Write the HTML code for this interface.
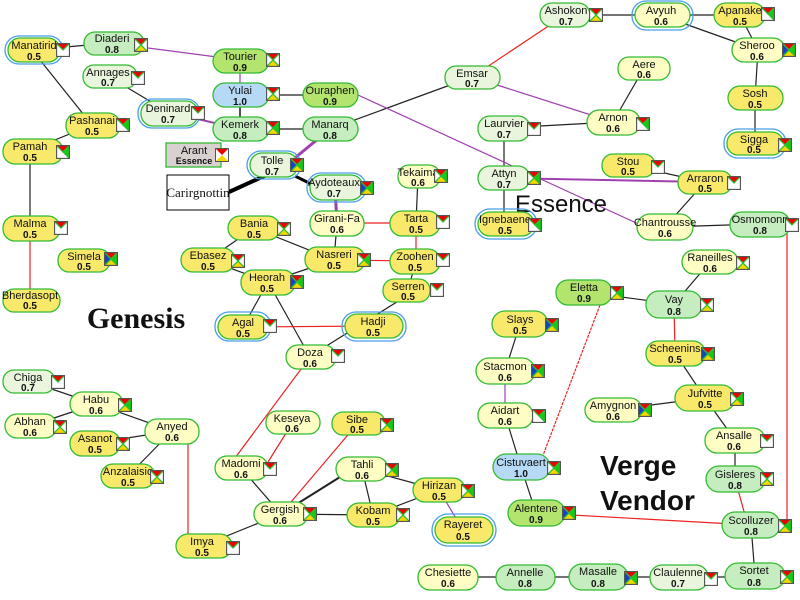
<!DOCTYPE html>
<html><head><meta charset="utf-8"><style>
html,body{margin:0;padding:0;background:#fff;width:800px;height:600px;overflow:hidden}
svg text{font-family:"Liberation Sans","DejaVu Sans",sans-serif;text-anchor:middle;fill:#111}
.n{font-size:11px}.v{font-size:10px;font-weight:bold}
</style></head><body>
<svg width="800" height="600" viewBox="0 0 800 600" xmlns="http://www.w3.org/2000/svg">
<defs>
<symbol id="iR" viewBox="0 0 14 14"><rect width="14" height="14" fill="#fff"/><path d="M0 0H14L7 7Z" fill="#e00"/><rect x=".5" y=".5" width="13" height="13" fill="none" stroke="#555"/></symbol>
<symbol id="iH" viewBox="0 0 14 14"><rect width="14" height="14" fill="#fff"/><path d="M0 0H14L7 7Z" fill="#e00"/><path d="M0 14H14L7 7Z" fill="#f5d800"/><rect x=".5" y=".5" width="13" height="13" fill="none" stroke="#555"/></symbol>
<symbol id="iRG" viewBox="0 0 14 14"><rect width="14" height="14" fill="#fff"/><path d="M0 0H14L7 7Z" fill="#e00"/><path d="M14 0V14L7 7Z" fill="#1c1"/><rect x=".5" y=".5" width="13" height="13" fill="none" stroke="#555"/></symbol>
<symbol id="iG" viewBox="0 0 14 14"><rect width="14" height="14" fill="#fff"/><path d="M0 0H14L7 7Z" fill="#e00"/><path d="M14 0V14L7 7Z" fill="#1c1"/><path d="M0 14H14L7 7Z" fill="#f5d800"/><rect x=".5" y=".5" width="13" height="13" fill="none" stroke="#555"/></symbol>
<symbol id="iF" viewBox="0 0 14 14"><path d="M0 0H14L7 7Z" fill="#e00"/><path d="M14 0V14L7 7Z" fill="#1c1"/><path d="M0 14H14L7 7Z" fill="#f5d800"/><path d="M0 0V14L7 7Z" fill="#14c"/><rect x=".5" y=".5" width="13" height="13" fill="none" stroke="#555"/></symbol>
</defs>
<g stroke-width="1.2" fill="none">
<g stroke="#222">
<line x1="33" y1="50" x2="110" y2="43"/><line x1="40" y1="60" x2="92" y2="125"/><line x1="108" y1="76" x2="168" y2="112"/>
<line x1="240" y1="95" x2="240" y2="129" stroke="#555" stroke-width="2"/><line x1="240" y1="95" x2="330" y2="95"/><line x1="240" y1="129" x2="330" y2="129"/>
<line x1="92" y1="125" x2="30" y2="150"/><line x1="30" y1="150" x2="30" y2="228"/>
<line x1="330" y1="129" x2="472" y2="77"/><line x1="565" y1="15" x2="660" y2="15"/><line x1="660" y1="15" x2="740" y2="15"/>
<line x1="660" y1="15" x2="758" y2="50"/><line x1="740" y1="15" x2="758" y2="50"/><line x1="758" y1="50" x2="755" y2="98"/><line x1="755" y1="98" x2="755" y2="143"/>
<line x1="644" y1="68" x2="613" y2="122"/><line x1="613" y1="122" x2="504" y2="128"/><line x1="504" y1="128" x2="504" y2="224"/>
<line x1="628" y1="165" x2="705" y2="182"/><line x1="705" y1="182" x2="665" y2="227"/><line x1="665" y1="227" x2="760" y2="224"/>
<line x1="418" y1="176" x2="416" y2="223"/><line x1="337" y1="223" x2="334" y2="260"/><line x1="254" y1="228" x2="334" y2="260"/>
<line x1="334" y1="260" x2="268" y2="282"/><line x1="254" y1="228" x2="208" y2="260"/><line x1="208" y1="260" x2="268" y2="282"/>
<line x1="416" y1="261" x2="408" y2="290"/><line x1="268" y1="282" x2="243" y2="327"/><line x1="268" y1="282" x2="310" y2="357"/>
<line x1="400" y1="300" x2="320" y2="350"/>
<line x1="28" y1="381" x2="96" y2="404"/><line x1="96" y1="404" x2="30" y2="426"/><line x1="96" y1="404" x2="172" y2="431"/>
<line x1="95" y1="443" x2="172" y2="431"/><line x1="128" y1="476" x2="172" y2="431"/>
<line x1="202" y1="546" x2="281" y2="514"/><line x1="241" y1="468" x2="281" y2="514"/><line x1="281" y1="514" x2="373" y2="515"/>
<line x1="281" y1="514" x2="340" y2="477" stroke-width="2"/><line x1="362" y1="469" x2="373" y2="515"/><line x1="362" y1="469" x2="439" y2="490"/><line x1="373" y1="515" x2="439" y2="490"/>
<line x1="584" y1="292" x2="674" y2="304"/><line x1="710" y1="262" x2="674" y2="304"/><line x1="675" y1="353" x2="705" y2="398"/>
<line x1="613" y1="410" x2="705" y2="398"/><line x1="705" y1="398" x2="735" y2="440"/><line x1="735" y1="440" x2="735" y2="479"/>
<line x1="751" y1="525" x2="755" y2="576"/><line x1="520" y1="324" x2="505" y2="371"/><line x1="505" y1="415" x2="521" y2="467"/><line x1="521" y1="467" x2="536" y2="513"/>
<line x1="448" y1="577" x2="755" y2="577"/>
</g>
<g stroke="#a040b0">
<line x1="110" y1="43" x2="240" y2="60"/><line x1="168" y1="112" x2="240" y2="129" stroke-width="2"/><line x1="240" y1="60" x2="240" y2="95"/>
<line x1="330" y1="129" x2="290" y2="162" stroke-width="3"/><line x1="335" y1="188" x2="337" y2="223" stroke-width="3"/>
<line x1="358" y1="95" x2="645" y2="227"/><line x1="472" y1="77" x2="613" y2="122"/><line x1="504" y1="178" x2="705" y2="182" stroke-width="2"/>
<line x1="439" y1="490" x2="463" y2="530"/><line x1="505" y1="371" x2="505" y2="415"/>
</g>
<g stroke="#e22">
<line x1="30" y1="228" x2="30" y2="300"/><line x1="472" y1="77" x2="565" y2="15"/><line x1="337" y1="223" x2="416" y2="223"/>
<line x1="416" y1="223" x2="416" y2="261"/><line x1="334" y1="260" x2="416" y2="261"/><line x1="243" y1="327" x2="373" y2="326"/>
<line x1="310" y1="357" x2="235" y2="458"/><line x1="188" y1="441" x2="188" y2="537"/><line x1="293" y1="422" x2="268" y2="462"/>
<line x1="358" y1="423" x2="291" y2="502"/><line x1="600" y1="305" x2="542" y2="458" stroke-dasharray="3,1"/><line x1="674" y1="304" x2="675" y2="353"/>
<line x1="735" y1="479" x2="745" y2="515"/><line x1="536" y1="513" x2="751" y2="525"/><line x1="787" y1="230" x2="787" y2="520"/>
</g>
<line x1="273" y1="172" x2="229" y2="192" stroke="#000" stroke-width="4"/><line x1="295" y1="176" x2="315" y2="186" stroke="#000" stroke-width="3"/>
</g>
<rect x="167" y="175" width="62" height="35" fill="#fff" stroke="#000"/>
<text x="198" y="197" style="font-family:'Liberation Serif',serif;font-size:13px">Carirgnottin</text>
<rect x="166" y="143" width="55" height="24" fill="#d9d0d0" stroke="#3b3" stroke-width="1.3"/>
<text class="n" x="194" y="154">Arant</text><text x="194" y="164" style="font-size:9px;font-weight:bold">Essence</text><use href="#iH" x="215" y="148" width="14" height="14"/>
<text x="136" y="328" style="font-family:'Liberation Serif',serif;font-size:30px;font-weight:bold">Genesis</text>
<text x="561" y="212" style="font-size:24px">Essence</text>
<text x="600" y="475" style="font-size:28px;font-weight:bold;text-anchor:start">Verge</text>
<text x="600" y="510" style="font-size:28px;font-weight:bold;text-anchor:start">Vendor</text>
<g stroke="#33bb33" stroke-width="1.3">
<rect x="5" y="36" width="58" height="28" rx="14" fill="none" stroke="#4a9de8"/>
<rect x="138" y="99" width="62" height="29" rx="14" fill="none" stroke="#4a9de8"/>
<rect x="247" y="151" width="54" height="28" rx="14" fill="none" stroke="#4a9de8"/>
<rect x="307" y="173" width="59" height="29" rx="14" fill="none" stroke="#4a9de8"/>
<rect x="215" y="312" width="56" height="29" rx="14" fill="none" stroke="#4a9de8"/>
<rect x="342" y="312" width="64" height="29" rx="14" fill="none" stroke="#4a9de8"/>
<rect x="432" y="514" width="64" height="32" rx="16" fill="none" stroke="#4a9de8"/>
<rect x="632" y="1" width="61" height="29" rx="14" fill="none" stroke="#4a9de8"/>
<rect x="724" y="129" width="62" height="29" rx="14" fill="none" stroke="#4a9de8"/>
<rect x="475" y="209" width="62" height="30" rx="15" fill="none" stroke="#4a9de8"/>
</g>
<g stroke="#33bb33" stroke-width="1.3">
<rect x="8" y="38" width="52" height="24" rx="12" fill="#f9e96b"/><text class="n" x="34" y="49" stroke="none">Manatirid</text><text class="v" x="34" y="60" stroke="none">0.5</text><use href="#iR" x="56" y="43" width="14" height="14"/>
<rect x="84" y="32" width="60" height="23" rx="11" fill="#c6edbf"/><text class="n" x="112" y="42" stroke="none">Diaderi</text><text class="v" x="112" y="53" stroke="none">0.8</text><use href="#iH" x="134" y="38" width="14" height="14"/>
<rect x="213" y="49" width="56" height="24" rx="12" fill="#b3e56e"/><text class="n" x="240" y="60" stroke="none">Tourier</text><text class="v" x="240" y="71" stroke="none">0.9</text><use href="#iH" x="266" y="53" width="14" height="14"/>
<rect x="213" y="83" width="56" height="24" rx="12" fill="#b6d9f5"/><text class="n" x="240" y="94" stroke="none">Yulai</text><text class="v" x="240" y="105" stroke="none">1.0</text><use href="#iH" x="266" y="87" width="14" height="14"/>
<rect x="213" y="117" width="56" height="24" rx="12" fill="#c6edbf"/><text class="n" x="240" y="128" stroke="none">Kemerk</text><text class="v" x="240" y="139" stroke="none">0.8</text><use href="#iG" x="266" y="121" width="14" height="14"/>
<rect x="83" y="65" width="54" height="23" rx="11" fill="#e9f5dc"/><text class="n" x="108" y="76" stroke="none">Annages</text><text class="v" x="108" y="86" stroke="none">0.7</text><use href="#iR" x="131" y="71" width="14" height="14"/>
<rect x="141" y="101" width="57" height="25" rx="12" fill="#e9f5dc"/><text class="n" x="168" y="112" stroke="none">Deninard</text><text class="v" x="168" y="123" stroke="none">0.7</text><use href="#iR" x="191" y="106" width="14" height="14"/>
<rect x="66" y="113" width="54" height="25" rx="12" fill="#f9e96b"/><text class="n" x="92" y="124" stroke="none">Pashanai</text><text class="v" x="92" y="135" stroke="none">0.5</text><use href="#iRG" x="116" y="118" width="14" height="14"/>
<rect x="3" y="139" width="60" height="25" rx="12" fill="#f9e96b"/><text class="n" x="30" y="150" stroke="none">Pamah</text><text class="v" x="30" y="161" stroke="none">0.5</text><use href="#iRG" x="56" y="145" width="14" height="14"/>
<rect x="250" y="153" width="48" height="24" rx="12" fill="#e9f5dc"/><text class="n" x="272" y="164" stroke="none">Tolle</text><text class="v" x="272" y="175" stroke="none">0.7</text><use href="#iF" x="290" y="158" width="14" height="14"/>
<rect x="303" y="83" width="55" height="24" rx="12" fill="#b3e56e"/><text class="n" x="330" y="94" stroke="none">Ouraphen</text><text class="v" x="330" y="105" stroke="none">0.9</text>
<rect x="303" y="117" width="55" height="24" rx="12" fill="#c6edbf"/><text class="n" x="330" y="128" stroke="none">Manarq</text><text class="v" x="330" y="139" stroke="none">0.8</text>
<rect x="310" y="175" width="53" height="25" rx="12" fill="#e9f5dc"/><text class="n" x="334" y="186" stroke="none">Aydoteaux</text><text class="v" x="334" y="197" stroke="none">0.7</text><use href="#iF" x="360" y="181" width="14" height="14"/>
<rect x="310" y="211" width="54" height="25" rx="12" fill="#fdfdc4"/><text class="n" x="337" y="222" stroke="none">Girani-Fa</text><text class="v" x="337" y="233" stroke="none">0.6</text>
<rect x="398" y="165" width="42" height="23" rx="11" fill="#fdfdc4"/><text class="n" x="418" y="176" stroke="none">Tekaima</text><text class="v" x="418" y="186" stroke="none">0.6</text><use href="#iG" x="434" y="169" width="14" height="14"/>
<rect x="390" y="211" width="50" height="25" rx="12" fill="#f9e96b"/><text class="n" x="416" y="222" stroke="none">Tarta</text><text class="v" x="416" y="233" stroke="none">0.5</text><use href="#iR" x="436" y="215" width="14" height="14"/>
<rect x="305" y="247" width="60" height="25" rx="12" fill="#f9e96b"/><text class="n" x="334" y="258" stroke="none">Nasreri</text><text class="v" x="334" y="269" stroke="none">0.5</text><use href="#iG" x="357" y="253" width="14" height="14"/>
<rect x="390" y="249" width="50" height="25" rx="12" fill="#f9e96b"/><text class="n" x="415" y="260" stroke="none">Zoohen</text><text class="v" x="415" y="271" stroke="none">0.5</text><use href="#iR" x="436" y="253" width="14" height="14"/>
<rect x="383" y="279" width="47" height="23" rx="11" fill="#f9e96b"/><text class="n" x="408" y="290" stroke="none">Serren</text><text class="v" x="408" y="300" stroke="none">0.5</text><use href="#iR" x="430" y="283" width="14" height="14"/>
<rect x="228" y="216" width="52" height="24" rx="12" fill="#f9e96b"/><text class="n" x="254" y="227" stroke="none">Bania</text><text class="v" x="254" y="238" stroke="none">0.5</text><use href="#iH" x="277" y="222" width="14" height="14"/>
<rect x="181" y="248" width="54" height="24" rx="12" fill="#f9e96b"/><text class="n" x="208" y="259" stroke="none">Ebasez</text><text class="v" x="208" y="270" stroke="none">0.5</text><use href="#iH" x="231" y="254" width="14" height="14"/>
<rect x="241" y="270" width="54" height="25" rx="12" fill="#f9e96b"/><text class="n" x="267" y="281" stroke="none">Heorah</text><text class="v" x="267" y="292" stroke="none">0.5</text><use href="#iF" x="290" y="275" width="14" height="14"/>
<rect x="218" y="315" width="50" height="24" rx="12" fill="#f9e96b"/><text class="n" x="243" y="326" stroke="none">Agal</text><text class="v" x="243" y="337" stroke="none">0.5</text><use href="#iR" x="263" y="319" width="14" height="14"/>
<rect x="345" y="314" width="58" height="24" rx="12" fill="#f9e96b"/><text class="n" x="373" y="325" stroke="none">Hadji</text><text class="v" x="373" y="336" stroke="none">0.5</text>
<rect x="286" y="345" width="50" height="24" rx="12" fill="#fdfdc4"/><text class="n" x="310" y="356" stroke="none">Doza</text><text class="v" x="310" y="367" stroke="none">0.6</text><use href="#iR" x="331" y="349" width="14" height="14"/>
<rect x="3" y="216" width="57" height="25" rx="12" fill="#f9e96b"/><text class="n" x="30" y="227" stroke="none">Malma</text><text class="v" x="30" y="238" stroke="none">0.5</text><use href="#iR" x="54" y="221" width="14" height="14"/>
<rect x="58" y="249" width="52" height="23" rx="11" fill="#f9e96b"/><text class="n" x="84" y="260" stroke="none">Simela</text><text class="v" x="84" y="270" stroke="none">0.5</text><use href="#iF" x="104" y="252" width="14" height="14"/>
<rect x="3" y="289" width="57" height="23" rx="11" fill="#f9e96b"/><text class="n" x="30" y="299" stroke="none">Bherdasopt</text><text class="v" x="30" y="309" stroke="none">0.5</text>
<rect x="3" y="370" width="52" height="23" rx="11" fill="#e9f5dc"/><text class="n" x="28" y="381" stroke="none">Chiga</text><text class="v" x="28" y="391" stroke="none">0.7</text><use href="#iR" x="51" y="375" width="14" height="14"/>
<rect x="70" y="392" width="53" height="24" rx="12" fill="#fdfdc4"/><text class="n" x="96" y="403" stroke="none">Habu</text><text class="v" x="96" y="414" stroke="none">0.6</text><use href="#iG" x="118" y="398" width="14" height="14"/>
<rect x="5" y="414" width="52" height="24" rx="12" fill="#fdfdc4"/><text class="n" x="30" y="425" stroke="none">Abhan</text><text class="v" x="30" y="436" stroke="none">0.6</text><use href="#iH" x="53" y="420" width="14" height="14"/>
<rect x="70" y="431" width="50" height="25" rx="12" fill="#f9e96b"/><text class="n" x="95" y="442" stroke="none">Asanot</text><text class="v" x="95" y="453" stroke="none">0.5</text><use href="#iH" x="116" y="437" width="14" height="14"/>
<rect x="145" y="419" width="54" height="25" rx="12" fill="#fdfdc4"/><text class="n" x="172" y="430" stroke="none">Anyed</text><text class="v" x="172" y="441" stroke="none">0.6</text>
<rect x="101" y="464" width="54" height="24" rx="12" fill="#f9e96b"/><text class="n" x="128" y="475" stroke="none">Anzalaisio</text><text class="v" x="128" y="486" stroke="none">0.5</text><use href="#iH" x="150" y="470" width="14" height="14"/>
<rect x="176" y="534" width="56" height="24" rx="12" fill="#f9e96b"/><text class="n" x="202" y="545" stroke="none">Imya</text><text class="v" x="202" y="556" stroke="none">0.5</text><use href="#iR" x="226" y="541" width="14" height="14"/>
<rect x="266" y="411" width="54" height="23" rx="11" fill="#fdfdc4"/><text class="n" x="292" y="422" stroke="none">Keseya</text><text class="v" x="292" y="432" stroke="none">0.6</text>
<rect x="332" y="412" width="53" height="23" rx="11" fill="#f9e96b"/><text class="n" x="357" y="423" stroke="none">Sibe</text><text class="v" x="357" y="433" stroke="none">0.5</text><use href="#iG" x="380" y="418" width="14" height="14"/>
<rect x="215" y="456" width="53" height="24" rx="12" fill="#fdfdc4"/><text class="n" x="241" y="467" stroke="none">Madomi</text><text class="v" x="241" y="478" stroke="none">0.6</text><use href="#iR" x="263" y="462" width="14" height="14"/>
<rect x="336" y="457" width="52" height="24" rx="12" fill="#fdfdc4"/><text class="n" x="362" y="468" stroke="none">Tahli</text><text class="v" x="362" y="479" stroke="none">0.6</text><use href="#iG" x="385" y="463" width="14" height="14"/>
<rect x="254" y="502" width="54" height="24" rx="12" fill="#fdfdc4"/><text class="n" x="280" y="513" stroke="none">Gergish</text><text class="v" x="280" y="524" stroke="none">0.6</text><use href="#iG" x="303" y="507" width="14" height="14"/>
<rect x="347" y="503" width="53" height="24" rx="12" fill="#f9e96b"/><text class="n" x="373" y="514" stroke="none">Kobam</text><text class="v" x="373" y="525" stroke="none">0.5</text><use href="#iH" x="396" y="508" width="14" height="14"/>
<rect x="413" y="478" width="52" height="24" rx="12" fill="#f9e96b"/><text class="n" x="439" y="489" stroke="none">Hirizan</text><text class="v" x="439" y="500" stroke="none">0.5</text><use href="#iG" x="461" y="484" width="14" height="14"/>
<rect x="435" y="517" width="58" height="26" rx="13" fill="#f9e96b"/><text class="n" x="463" y="528" stroke="none">Rayeret</text><text class="v" x="463" y="540" stroke="none">0.5</text>
<rect x="540" y="3" width="50" height="24" rx="12" fill="#e9f5dc"/><text class="n" x="566" y="14" stroke="none">Ashokon</text><text class="v" x="566" y="25" stroke="none">0.7</text><use href="#iH" x="589" y="8" width="14" height="14"/>
<rect x="635" y="3" width="55" height="24" rx="12" fill="#fdfdc4"/><text class="n" x="661" y="14" stroke="none">Avyuh</text><text class="v" x="661" y="25" stroke="none">0.6</text>
<rect x="714" y="3" width="51" height="24" rx="12" fill="#f9e96b"/><text class="n" x="740" y="14" stroke="none">Apanake</text><text class="v" x="740" y="25" stroke="none">0.5</text><use href="#iRG" x="761" y="7" width="14" height="14"/>
<rect x="445" y="66" width="55" height="23" rx="11" fill="#e9f5dc"/><text class="n" x="472" y="77" stroke="none">Emsar</text><text class="v" x="472" y="87" stroke="none">0.7</text>
<rect x="732" y="38" width="53" height="24" rx="12" fill="#fdfdc4"/><text class="n" x="757" y="49" stroke="none">Sheroo</text><text class="v" x="757" y="60" stroke="none">0.6</text><use href="#iF" x="782" y="43" width="14" height="14"/>
<rect x="618" y="57" width="52" height="23" rx="11" fill="#fdfdc4"/><text class="n" x="644" y="68" stroke="none">Aere</text><text class="v" x="644" y="78" stroke="none">0.6</text>
<rect x="728" y="86" width="55" height="24" rx="12" fill="#f9e96b"/><text class="n" x="755" y="97" stroke="none">Sosh</text><text class="v" x="755" y="108" stroke="none">0.5</text>
<rect x="587" y="110" width="53" height="25" rx="12" fill="#fdfdc4"/><text class="n" x="613" y="121" stroke="none">Arnon</text><text class="v" x="613" y="132" stroke="none">0.6</text><use href="#iRG" x="636" y="117" width="14" height="14"/>
<rect x="478" y="116" width="52" height="25" rx="12" fill="#e9f5dc"/><text class="n" x="504" y="127" stroke="none">Laurvier</text><text class="v" x="504" y="138" stroke="none">0.7</text><use href="#iR" x="527" y="122" width="14" height="14"/>
<rect x="727" y="132" width="56" height="23" rx="11" fill="#f9e96b"/><text class="n" x="754" y="143" stroke="none">Sigga</text><text class="v" x="754" y="153" stroke="none">0.5</text><use href="#iG" x="778" y="138" width="14" height="14"/>
<rect x="602" y="154" width="53" height="23" rx="11" fill="#f9e96b"/><text class="n" x="628" y="165" stroke="none">Stou</text><text class="v" x="628" y="175" stroke="none">0.5</text><use href="#iR" x="651" y="160" width="14" height="14"/>
<rect x="478" y="166" width="52" height="24" rx="12" fill="#e9f5dc"/><text class="n" x="504" y="177" stroke="none">Attyn</text><text class="v" x="504" y="188" stroke="none">0.7</text><use href="#iG" x="527" y="171" width="14" height="14"/>
<rect x="678" y="171" width="54" height="23" rx="11" fill="#f9e96b"/><text class="n" x="705" y="182" stroke="none">Arraron</text><text class="v" x="705" y="192" stroke="none">0.5</text><use href="#iR" x="727" y="176" width="14" height="14"/>
<rect x="478" y="212" width="56" height="24" rx="12" fill="#f9e96b"/><text class="n" x="505" y="223" stroke="none">Ignebaene</text><text class="v" x="505" y="234" stroke="none">0.5</text><use href="#iRG" x="528" y="218" width="14" height="14"/>
<rect x="637" y="214" width="56" height="26" rx="13" fill="#fdfdc4"/><text class="n" x="665" y="226" stroke="none">Chantrousse</text><text class="v" x="665" y="237" stroke="none">0.6</text>
<rect x="730" y="212" width="60" height="25" rx="12" fill="#c6edbf"/><text class="n" x="760" y="223" stroke="none">Osmomonn</text><text class="v" x="760" y="234" stroke="none">0.8</text><use href="#iR" x="785" y="218" width="14" height="14"/>
<rect x="682" y="250" width="56" height="24" rx="12" fill="#fdfdc4"/><text class="n" x="710" y="261" stroke="none">Raneilles</text><text class="v" x="710" y="272" stroke="none">0.6</text><use href="#iH" x="736" y="256" width="14" height="14"/>
<rect x="556" y="280" width="56" height="25" rx="12" fill="#b3e56e"/><text class="n" x="584" y="291" stroke="none">Eletta</text><text class="v" x="584" y="302" stroke="none">0.9</text><use href="#iG" x="610" y="286" width="14" height="14"/>
<rect x="646" y="291" width="56" height="27" rx="13" fill="#c6edbf"/><text class="n" x="674" y="303" stroke="none">Vay</text><text class="v" x="674" y="315" stroke="none">0.8</text><use href="#iH" x="700" y="298" width="14" height="14"/>
<rect x="492" y="311" width="56" height="26" rx="13" fill="#f9e96b"/><text class="n" x="520" y="323" stroke="none">Slays</text><text class="v" x="520" y="334" stroke="none">0.5</text><use href="#iF" x="545" y="318" width="14" height="14"/>
<rect x="646" y="341" width="59" height="25" rx="12" fill="#f9e96b"/><text class="n" x="675" y="352" stroke="none">Scheenins</text><text class="v" x="675" y="363" stroke="none">0.5</text><use href="#iF" x="701" y="347" width="14" height="14"/>
<rect x="476" y="358" width="59" height="26" rx="13" fill="#fdfdc4"/><text class="n" x="505" y="370" stroke="none">Stacmon</text><text class="v" x="505" y="381" stroke="none">0.6</text><use href="#iF" x="531" y="364" width="14" height="14"/>
<rect x="675" y="385" width="60" height="26" rx="13" fill="#f9e96b"/><text class="n" x="705" y="397" stroke="none">Jufvitte</text><text class="v" x="705" y="408" stroke="none">0.5</text><use href="#iG" x="730" y="392" width="14" height="14"/>
<rect x="585" y="398" width="57" height="24" rx="12" fill="#fdfdc4"/><text class="n" x="613" y="409" stroke="none">Amygnon</text><text class="v" x="613" y="420" stroke="none">0.6</text><use href="#iF" x="638" y="403" width="14" height="14"/>
<rect x="478" y="403" width="55" height="25" rx="12" fill="#fdfdc4"/><text class="n" x="505" y="414" stroke="none">Aidart</text><text class="v" x="505" y="425" stroke="none">0.6</text><use href="#iRG" x="532" y="409" width="14" height="14"/>
<rect x="705" y="428" width="60" height="25" rx="12" fill="#fdfdc4"/><text class="n" x="734" y="439" stroke="none">Ansalle</text><text class="v" x="734" y="450" stroke="none">0.6</text><use href="#iR" x="760" y="434" width="14" height="14"/>
<rect x="493" y="454" width="57" height="26" rx="13" fill="#b6d9f5"/><text class="n" x="521" y="466" stroke="none">Cistuvaert</text><text class="v" x="521" y="477" stroke="none">1.0</text><use href="#iG" x="547" y="461" width="14" height="14"/>
<rect x="706" y="466" width="59" height="26" rx="13" fill="#c6edbf"/><text class="n" x="735" y="478" stroke="none">Gisleres</text><text class="v" x="735" y="489" stroke="none">0.8</text><use href="#iH" x="760" y="472" width="14" height="14"/>
<rect x="508" y="500" width="57" height="26" rx="13" fill="#b3e56e"/><text class="n" x="536" y="512" stroke="none">Alentene</text><text class="v" x="536" y="523" stroke="none">0.9</text><use href="#iF" x="562" y="506" width="14" height="14"/>
<rect x="722" y="512" width="58" height="26" rx="13" fill="#c6edbf"/><text class="n" x="751" y="524" stroke="none">Scolluzer</text><text class="v" x="751" y="535" stroke="none">0.8</text><use href="#iG" x="778" y="519" width="14" height="14"/>
<rect x="418" y="565" width="60" height="25" rx="12" fill="#fdfdc4"/><text class="n" x="448" y="576" stroke="none">Chesiette</text><text class="v" x="448" y="587" stroke="none">0.6</text>
<rect x="496" y="565" width="59" height="25" rx="12" fill="#c6edbf"/><text class="n" x="525" y="576" stroke="none">Annelle</text><text class="v" x="525" y="587" stroke="none">0.8</text>
<rect x="569" y="564" width="59" height="26" rx="13" fill="#c6edbf"/><text class="n" x="598" y="575" stroke="none">Masalle</text><text class="v" x="598" y="587" stroke="none">0.8</text><use href="#iF" x="624" y="571" width="14" height="14"/>
<rect x="650" y="565" width="58" height="25" rx="12" fill="#e9f5dc"/><text class="n" x="678" y="576" stroke="none">Claulenne</text><text class="v" x="678" y="587" stroke="none">0.7</text><use href="#iR" x="704" y="572" width="14" height="14"/>
<rect x="725" y="563" width="60" height="26" rx="13" fill="#c6edbf"/><text class="n" x="754" y="574" stroke="none">Sortet</text><text class="v" x="754" y="586" stroke="none">0.8</text><use href="#iG" x="780" y="570" width="14" height="14"/>
</g>
</svg>
</body></html>
